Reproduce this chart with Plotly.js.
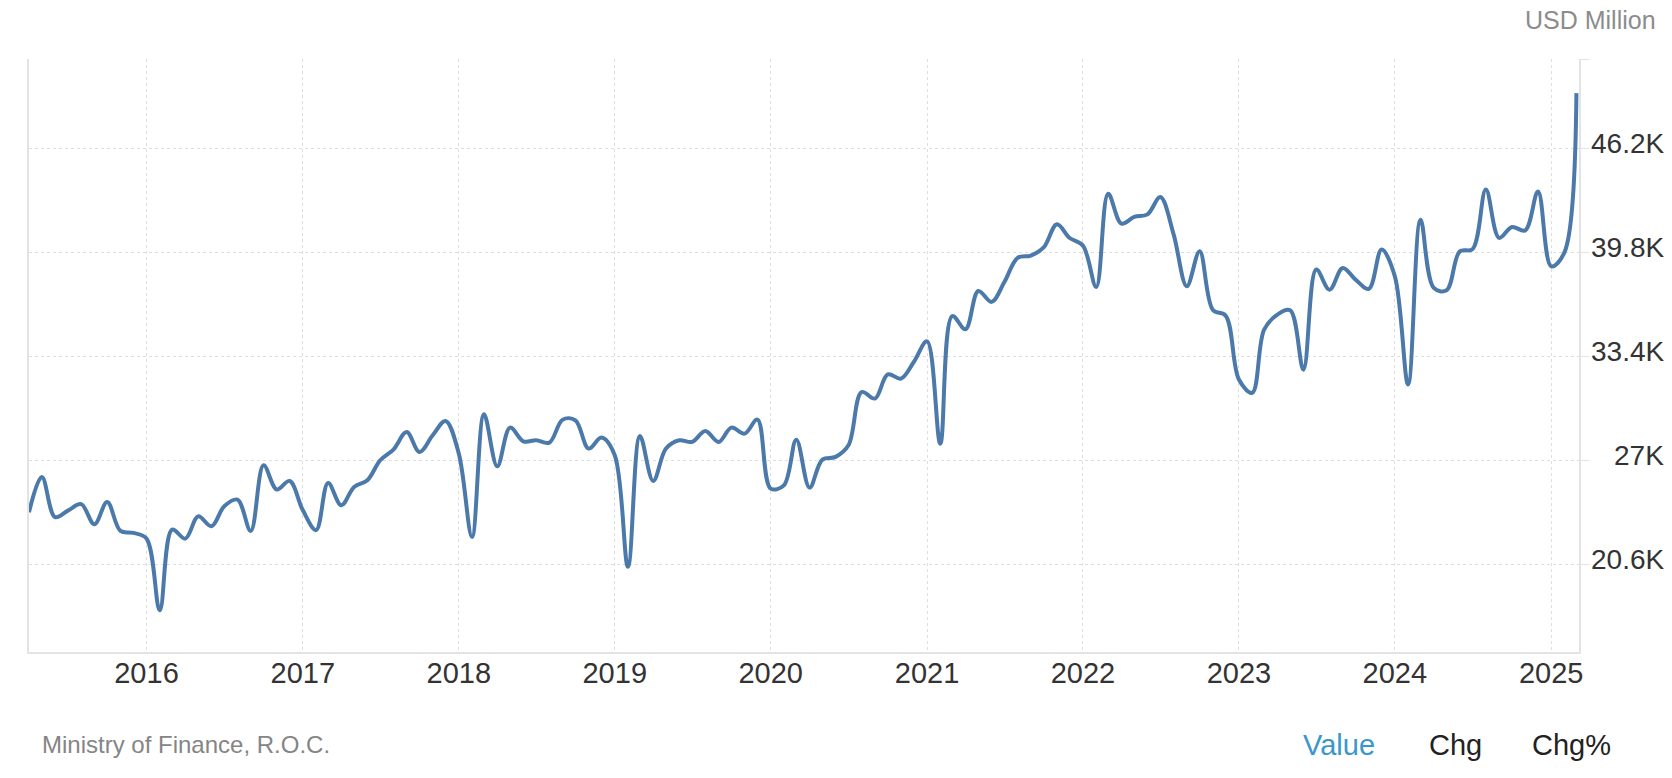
<!DOCTYPE html>
<html>
<head>
<meta charset="utf-8">
<script src="https://cdn.plot.ly/plotly-3.0.1.min.js"></script>
<style>
  html, body { margin: 0; padding: 0; background: #fff; }
  #chart { width: 1672px; height: 778px; }
</style>
</head>
<body>
<div id="chart"></div>
<script>
// monthly exports, USD million, first point is April 2015
var firstMonth = [2015, 4];
var exportValues = [
  23800, 25970, 23500, 23900, 24300, 23060, 24430, 22650, 22530,
  22180, 17770, 22730, 22180, 23550, 22940, 24170, 24580, 22650, 26690, 25200, 25730,
  23920, 22700, 25600, 24230, 25360, 25770, 27000, 27660, 28740, 27510, 28540, 29420,
  27410, 22280, 29830, 26630, 29010, 28170, 28230, 28090, 29500, 29460, 27720, 28400,
  27310, 20440, 28500, 25730, 27720, 28230, 28130, 28800, 28130, 29010, 28640, 29500,
  25260, 25460, 28270, 25320, 27040, 27210, 27920, 31200, 30800, 32290, 32030, 33050,
  34320, 28020, 35880, 35070, 37420, 36750, 37970, 39460, 39600, 40100, 41530, 40680,
  40210, 37670, 43400, 41570, 41980, 42140, 43200, 40920, 37710, 39860, 36250, 35900,
  31970, 31150, 35040, 35970, 36230, 32580, 38740, 37500, 38840, 38120, 37550, 39970,
  38320, 31660, 41810, 37610, 37460, 39860, 40000, 43660, 40690, 41360, 41150, 43550,
  38940, 39800, 49600
];

var yearTicks = ['2016', '2017', '2018', '2019', '2020', '2021', '2022', '2023', '2024', '2025'];
var yTickVals = [20600, 27000, 33400, 39800, 46200];
var yTickText = ['20.6K', '27K', '33.4K', '39.8K', '46.2K'];
var yTop = 51700;
var yBottom = 15200;

var fontFamily = 'Liberation Sans, Arial, Helvetica, sans-serif';

function month_dates(start, count) {
  var out = [];
  var y = start[0];
  var m = start[1];
  for (var i = 0; i < count; i++) {
    out.push(y + '-' + (m < 10 ? '0' + m : m) + '-01');
    m++;
    if (m > 12) {
      m = 1;
      y++;
    }
  }
  return out;
}

var trace = {
  x: month_dates(firstMonth, exportValues.length),
  y: exportValues,
  type: 'scatter',
  mode: 'lines',
  line: {
    color: '#4b79a9',
    width: 4,
    shape: 'spline',
    smoothing: 1
  },
  hoverinfo: 'x+y'
};

var annotations = yTickVals.map(function (v, i) {
  return {
    xref: 'paper', yref: 'y',
    x: 1.0561, y: v,
    xanchor: 'right', yanchor: 'middle',
    yshift: 5,
    text: yTickText[i],
    showarrow: false,
    font: { family: fontFamily, size: 28, color: '#333333' }
  };
});

annotations.push({
  xref: 'paper', yref: 'paper',
  x: 1.051, y: 1.0663,
  xanchor: 'right', yanchor: 'middle',
  text: 'USD Million',
  showarrow: false,
  font: { family: fontFamily, size: 25, color: '#8c8c8c' }
});
annotations.push({
  xref: 'paper', yref: 'paper',
  x: 0.0071, y: -0.156,
  xanchor: 'left', yanchor: 'middle',
  text: 'Ministry of Finance, R.O.C.',
  showarrow: false,
  font: { family: fontFamily, size: 24, color: '#858585' }
});

var footerTabs = ['Value', 'Chg', 'Chg%'];
var footerTabX = [0.8206, 0.9019, 0.9684];
var footerTabColors = ['#3a97cc', '#222222', '#222222'];
footerTabs.forEach(function (label, i) {
  annotations.push({
    xref: 'paper', yref: 'paper',
    x: footerTabX[i], y: -0.157,
    xanchor: 'left', yanchor: 'middle',
    text: label,
    showarrow: false,
    font: { family: fontFamily, size: 29, color: footerTabColors[i] }
  });
});

var layout = {
  width: 1672,
  height: 778,
  margin: { l: 29, r: 93, t: 59, b: 126, pad: 0 },
  paper_bgcolor: '#ffffff',
  plot_bgcolor: '#ffffff',
  showlegend: false,
  font: { family: fontFamily, color: '#333333' },
  xaxis: {
    type: 'date',
    range: ['2015-04-01', '2025-03-07'],
    tickvals: yearTicks.map(function (y) { return y + '-01-01'; }),
    ticktext: yearTicks,
    ticks: '',
    ticklabelstandoff: -6,
    tickfont: { size: 29, color: '#333333' },
    showgrid: true,
    gridcolor: '#dedede',
    griddash: 'dot',
    gridwidth: 1,
    showline: true,
    linecolor: '#e3e3e3',
    linewidth: 2,
    zeroline: false,
    fixedrange: true
  },
  yaxis: {
    side: 'right',
    range: [yBottom, yTop],
    tickvals: yTickVals.concat([yTop]),
    showticklabels: false,
    ticks: 'outside',
    ticklen: 8,
    tickcolor: '#e3e3e3',
    showgrid: true,
    gridcolor: '#dedede',
    griddash: 'dot',
    gridwidth: 1,
    showline: true,
    mirror: true,
    linecolor: '#e3e3e3',
    linewidth: 2,
    zeroline: false,
    fixedrange: true
  },
  annotations: annotations
};

var config = {
  responsive: false,
  displayModeBar: false
};

Plotly.newPlot('chart', [trace], layout, config);
</script>
</body>
</html>
